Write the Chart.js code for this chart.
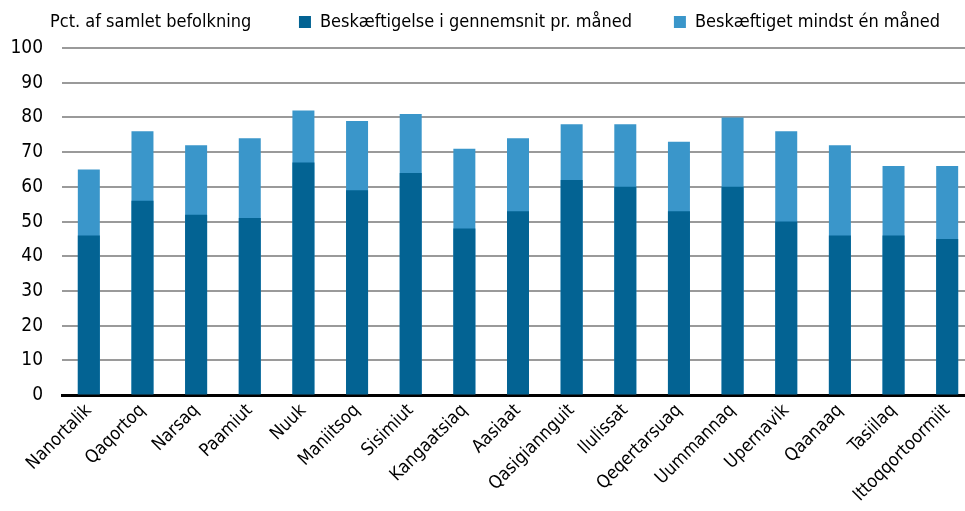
<!DOCTYPE html>
<html>
<head>
<meta charset="utf-8">
<script src="https://cdn.jsdelivr.net/npm/chart.js@4/dist/chart.umd.min.js"></script>
<style>
  html, body { margin: 0; padding: 0; background: #fff; overflow: hidden; }
  /* the plot runs a little past the right edge, as in the original */
  #wrap { position: relative; width: 965px; height: 511px; overflow: hidden; }
</style>
</head>
<body>
<div id="wrap"><canvas id="myChart" width="974" height="511"></canvas></div>
<script>
  'use strict';

  const categories = ['Nanortalik', 'Qaqortoq', 'Narsaq', 'Paamiut', 'Nuuk', 'Maniitsoq', 'Sisimiut',
    'Kangaatsiaq', 'Aasiaat', 'Qasigiannguit', 'Ilulissat', 'Qeqertarsuaq', 'Uummannaq', 'Upernavik',
    'Qaanaaq', 'Tasiilaq', 'Ittoqqortoormiit'];
  const avgMonthly = [46, 56, 52, 51, 67, 59, 64, 48, 53, 62, 60, 53, 60, 50, 46, 46, 45];
  const atLeastOneMonth = [65, 76, 72, 74, 82, 79, 81, 71, 74, 78, 78, 73, 80, 76, 72, 66, 66];
  const yTicks = [0, 10, 20, 30, 40, 50, 60, 70, 80, 90, 100];
  const yTitle = 'Pct. af samlet befolkning';

  const fontFamily = '"DejaVu Sans Condensed", "Liberation Sans Narrow", "Roboto", sans-serif';
  const legendGap = 42;

  // y-axis caption drawn at the top left, on the legend's line
  const yTitlePlugin = {
    id: 'yTitle',
    afterDraw: function(chart){
      const ctx = chart.ctx;
      ctx.save();
      ctx.font = '18px ' + fontFamily;
      ctx.fillStyle = '#000';
      ctx.textBaseline = 'middle';
      ctx.fillText(yTitle, 50, 22);
      ctx.restore();
    }
  };

  // legend uses a wide gap between items; keep its box short and move it up/right
  const legendPlace = {
    id: 'legendPlace',
    beforeInit: function(chart){
      const legend = chart.legend;
      const fit = legend.fit;
      const draw = legend.draw;
      legend.fit = function(){
        fit.apply(this, arguments);
        this.height = 44;
      };
      legend.draw = function(){
        const box = { top: this.top, left: this.left, right: this.right };
        this.top -= 33;
        this.left += 8;
        this.right += 8;
        draw.apply(this, arguments);
        this.top = box.top;
        this.left = box.left;
        this.right = box.right;
      };
    }
  };

  const ctx = document.getElementById('myChart').getContext('2d');
  // eslint-disable-next-line no-undef, no-unused-vars
  const myChart = new Chart(ctx, {
    type: 'bar',
    data: {
      labels: categories,
      datasets: [
        {
          label: 'Beskæftigelse i gennemsnit pr. måned',
          data: avgMonthly,
          backgroundColor: '#036393',
          borderWidth: 0,
          barPercentage: 0.41,
          categoryPercentage: 1,
        },
        {
          label: 'Beskæftiget mindst én måned',
          data: atLeastOneMonth,
          backgroundColor: '#3a96ca',
          borderWidth: 0,
          barPercentage: 0.41,
          categoryPercentage: 1,
        }
      ]
    },
    options: {
      responsive: false,
      animation: false,
      layout: {
        padding: { left: 0, right: 0, top: 4, bottom: 0 },
      },
      scales: {
        x: {
          stacked: true,
          grid: { display: false, drawTicks: false },
          border: { color: '#000', width: 3 },
          ticks: {
            color: '#000',
            font: { family: fontFamily, size: 18 },
            minRotation: 45,
            maxRotation: 45,
            padding: 5,
            autoSkip: false,
          },
        },
        y: {
          stacked: false,
          min: 0,
          max: 100,
          afterBuildTicks: function(axis){
            axis.ticks = yTicks.map(function(v){ return { value: v }; });
          },
          afterFit: function(axis){
            axis.width = 62;
          },
          grid: { color: '#9a9a9a', lineWidth: 2, drawTicks: false },
          border: { display: false },
          ticks: {
            color: '#000',
            font: { family: fontFamily, size: 19 },
            padding: 19,
          },
        }
      },
      plugins: {
        legend: {
          display: true,
          position: 'top',
          align: 'end',
          labels: {
            boxWidth: 12,
            boxHeight: 12,
            padding: legendGap,
            color: '#000',
            font: { family: fontFamily, size: 18 },
          },
        },
        tooltip: { enabled: false },
      },
    },
    plugins: [yTitlePlugin, legendPlace],
  });
</script>
</body>
</html>
